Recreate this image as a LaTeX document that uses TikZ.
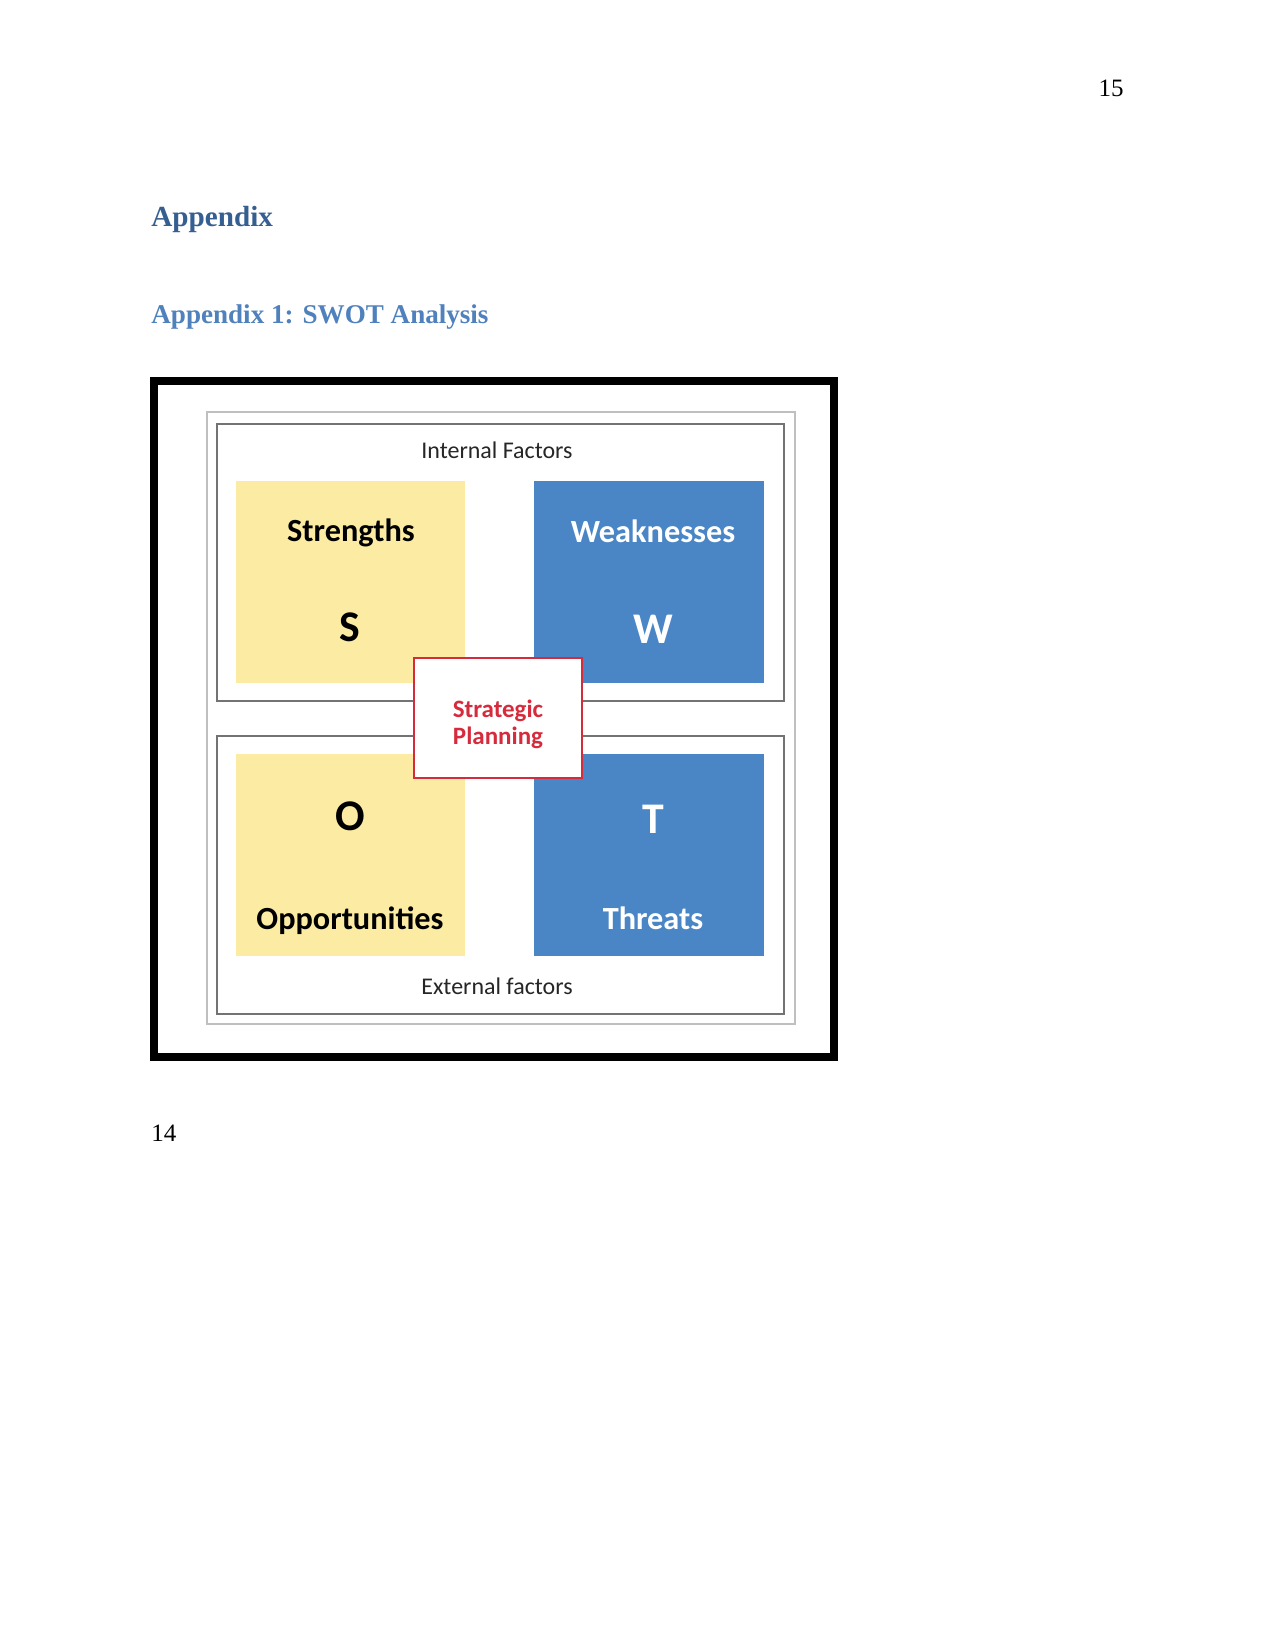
\documentclass[tikz,border=0pt]{standalone}
\usepackage{fontspec}
\setmainfont{Liberation Serif}
\newfontfamily\swotfont{Carlito}
\usepackage{xcolor}
\usetikzlibrary{shadows}

\definecolor{headdark}{HTML}{365F91}
\definecolor{headlight}{HTML}{4F81BD}
\definecolor{swotyellow}{HTML}{FCEBA2}
\definecolor{swotblue}{HTML}{4A86C6}
\definecolor{swotred}{HTML}{D62B3C}

\begin{document}
\begin{tikzpicture}[x=0.48pt, y=-0.48pt,
  pagetext/.style={inner sep=0pt},
  frame/.style={draw=black, line width=3.9pt, fill=white,
    drop shadow={shadow xshift=1.8pt, shadow yshift=-1.8pt, opacity=0.35}},
  outerline/.style={draw=black!25, line width=0.9pt},
  innerline/.style={draw=black!55, line width=0.9pt},
  quadrant/.style={rectangle, draw=none, minimum width=110pt, minimum height=97pt},
  yellowbox/.style={quadrant, fill=swotyellow},
  bluebox/.style={quadrant, fill=swotblue},
  corebox/.style={rectangle, draw=swotred, line width=0.9pt, fill=white,
    minimum width=80.6pt, minimum height=57.6pt, align=center,
    text=swotred, font=\swotfont\bfseries\fontsize{12}{13}\selectfont},
  quadtitle/.style={font=\swotfont\bfseries\fontsize{15.5}{18}\selectfont},
  quadletter/.style={font=\swotfont\bfseries\fontsize{21}{24}\selectfont},
  factor/.style={font=\swotfont\fontsize{11.5}{13}\selectfont, text=black!85}
]
\useasboundingbox (0,0) rectangle (1275,1651);

% Page text
\node[pagetext, anchor=base east, font=\fontsize{12}{14}\selectfont] (pagetop) at (1124,97) {15};
\node[pagetext, anchor=base west, font=\bfseries\fontsize{14}{17}\selectfont, text=headdark] (appx) at (151,227) {Appendix};
\node[pagetext, anchor=base west, font=\bfseries\fontsize{13}{16}\selectfont, text=headlight] (appxone) at (151,323) {Appendix 1: SWOT Analysis};
\node[pagetext, anchor=base west, font=\fontsize{12}{14}\selectfont] (pagebottom) at (151,1141) {14};

% Frames
\draw[frame] (154,381) rectangle (834,1057);
\draw[outerline] (207,412) rectangle (795,1024);
\draw[innerline] (217,424) rectangle (784,701);
\draw[innerline] (217,736) rectangle (784,1014);

% Quadrants
\node[yellowbox] (str) at (350.5,582) {};
\node[bluebox] (weak) at (649,582) {};
\node[yellowbox] (opp) at (350.5,855) {};
\node[bluebox] (thr) at (649,855) {};

\node[quadtitle] (strtitle) at (351,533) {Strengths};
\node[quadletter] (strletter) at (350,627) {S};
\node[quadtitle, text=white] (weaktitle) at (653,531) {Weaknesses};
\node[quadletter, text=white] (weakletter) at (653,629) {W};
\node[quadletter] (oppletter) at (350,816) {O};
\node[quadtitle] (opptitle) at (350,921) {Opportunities};
\node[quadletter, text=white] (thrletter) at (653,819) {T};
\node[quadtitle, text=white] (thrtitle) at (653,918) {Threats};

\node[factor] (internal) at (497,450) {Internal Factors};
\node[factor] (external) at (497,986) {External factors};

% Centre
\node[corebox] (core) at (498,718) {};
\node[text=swotred, font=\swotfont\bfseries\fontsize{12}{13}\selectfont, align=center] (coretext) at (498,724) {Strategic\\Planning};

\end{tikzpicture}
\end{document}
